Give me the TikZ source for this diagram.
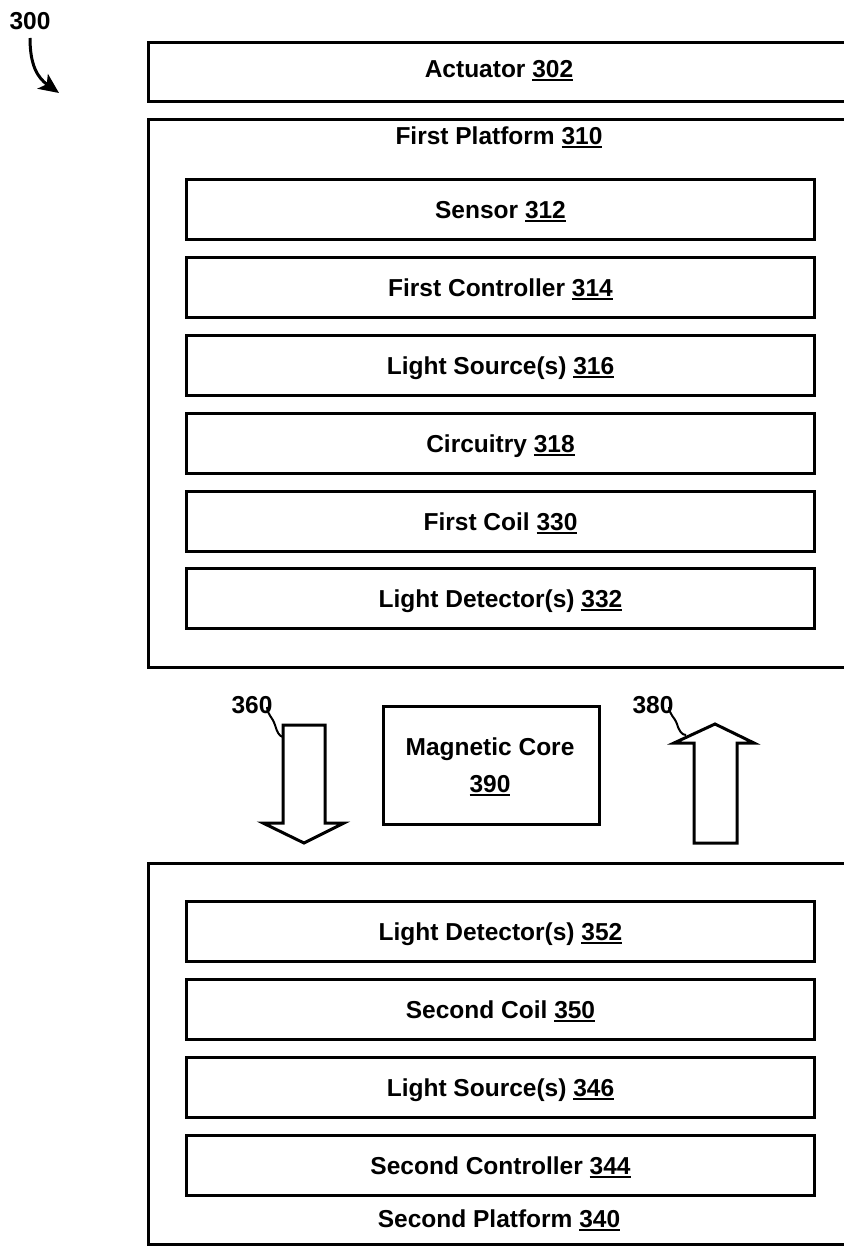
\documentclass[tikz,border=0pt]{standalone}
\usepackage{fontspec}
\setmainfont{Liberation Sans}
\usetikzlibrary{arrows.meta}
\newcommand\refn[1]{\setbox0\hbox{#1}\rlap{\rule[-3.5pt]{\wd0}{2pt}}\box0}
\begin{document}
\begin{tikzpicture}[x=1pt,y=-1pt,
  box/.style={draw,line width=3pt,inner sep=0pt,anchor=north west},
  inbox/.style={box,minimum width=628pt,minimum height=60pt,text height=17.5pt,text depth=0pt,
    font=\fontsize{24.5}{29}\selectfont\bfseries},
  lbl/.style={font=\fontsize{24.5}{29}\selectfont\bfseries,anchor=base,inner sep=0pt},
  bigarrow/.style={draw,line width=3pt,line join=miter,fill=white},
  leader/.style={draw,line width=2pt}]
\useasboundingbox (0,0) rectangle (843,1252);

% reference label 300
\node[lbl] (l300) at (30,30) {300};
\coordinate (t300) at (59,93);
\draw[line width=3pt,-{Stealth[length=20pt,width=18pt,inset=5pt]}] (30,38) .. controls (30,66) and (38,78) .. (t300);

% actuator
\node[box,minimum width=704pt,minimum height=59pt] (act) at (147,41) {};
\node[lbl] (actt) at (499,78) {Actuator \refn{302}};

% first platform
\node[box,minimum width=704pt,minimum height=548pt] (fp) at (147,118) {};
\node[lbl] (fpt) at (499,145) {First Platform \refn{310}};
\node[inbox] (s312) at (185,178) {Sensor \refn{312}};
\node[inbox] (c314) at (185,256) {First Controller \refn{314}};
\node[inbox] (l316) at (185,334) {Light Source(s) \refn{316}};
\node[inbox] (c318) at (185,412) {Circuitry \refn{318}};
\node[inbox] (c330) at (185,490) {First Coil \refn{330}};
\node[inbox] (d332) at (185,567) {Light Detector(s) \refn{332}};

% magnetic core
\node[box,minimum width=216pt,minimum height=118pt] (core) at (382,705) {};
\node[lbl] (coret1) at (490,755) {Magnetic Core};
\node[lbl] (coret2) at (490,792) {\refn{390}};

% arrow 360 (down)
\draw[bigarrow] (283,725) -- (325,725) -- (325,823) -- (344,823) -- (304,843) -- (263,823) -- (283,823) -- cycle;
\node[lbl] (l360) at (252,713) {360};
\coordinate (a360) at (283,737);
\draw[leader] (267,707) .. controls (268,716) and (272,716) .. (275,725) .. controls (277,732) and (279,736) .. (a360);

% arrow 380 (up)
\draw[bigarrow] (694,843) -- (737,843) -- (737,743) -- (754,743) -- (715,724) -- (674,743) -- (694,743) -- cycle;
\node[lbl] (l380) at (653,713) {380};
\coordinate (a380) at (686,735);
\draw[leader] (669,707) .. controls (670,716) and (674,716) .. (677,724) .. controls (679,731) and (682,735) .. (a380);

% second platform
\node[box,minimum width=704pt,minimum height=381pt] (sp) at (147,862) {};
\node[inbox] (d352) at (185,900) {Light Detector(s) \refn{352}};
\node[inbox] (c350) at (185,978) {Second Coil \refn{350}};
\node[inbox] (l346) at (185,1056) {Light Source(s) \refn{346}};
\node[inbox] (c344) at (185,1134) {Second Controller \refn{344}};
\node[lbl] (spt) at (499,1227) {Second Platform \refn{340}};
\end{tikzpicture}
\end{document}
